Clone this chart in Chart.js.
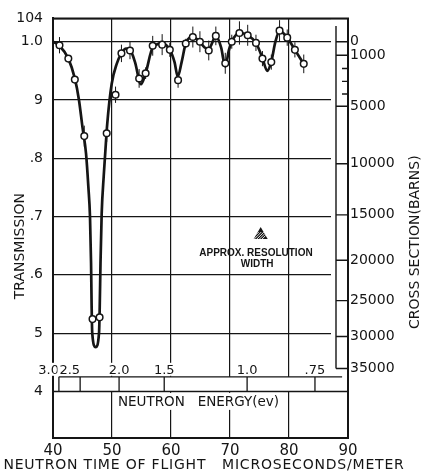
<!DOCTYPE html>
<html>
<head>
<meta charset="utf-8">
<script src="https://cdn.jsdelivr.net/npm/chart.js@4.4.0/dist/chart.umd.min.js"></script>
<style>
  html, body { margin: 0; padding: 0; background: #fff; }
  canvas { display: block; }
</style>
</head>
<body>
<canvas id="chart" width="421" height="475"></canvas>
<script>
// Measured points: neutron time of flight (us/m), transmission, error
const tofPoints = [41.1, 42.6, 43.7, 45.3, 46.7, 47.9, 49.1, 50.6, 51.6, 53.05, 54.6, 55.7, 56.9, 58.5, 59.8, 61.2,
  62.5, 63.7, 64.9, 66.4, 67.6, 69.2, 70.3, 71.6, 73.0, 74.4, 75.5, 77.0, 78.4, 79.7, 81.0, 82.5];
const transPoints = [0.994, 0.971, 0.935, 0.838, 0.524, 0.527, 0.843, 0.909, 0.980, 0.985, 0.937, 0.946, 0.993, 0.995, 0.986, 0.934,
  0.997, 1.008, 1.000, 0.985, 1.010, 0.963, 1.000, 1.015, 1.011, 0.998, 0.971, 0.965, 1.019, 1.007, 0.986, 0.962];
const transErrors = [0.014, 0, 0, 0.018, 0, 0, 0.015, 0.014, 0.015, 0.015, 0.016, 0.010, 0.017, 0.018, 0.012, 0.013,
  0.008, 0.018, 0.018, 0.017, 0.016, 0.018, 0.012, 0.020, 0.018, 0.014, 0.013, 0.013, 0.018, 0.014, 0.013, 0.016];

// Drawn-in curve
const curveTof = [40.0, 41.1, 42.6, 43.7, 44.4, 45.0, 45.6, 46.0, 46.27, 46.45, 46.55, 46.65, 47.23, 47.8, 47.92, 48.05,
  48.25, 48.6, 48.86, 49.2, 49.95, 50.8, 51.6, 52.4, 53.05, 53.9, 54.9, 55.7, 56.9, 58.5, 59.8, 60.6, 61.15, 61.8,
  62.5, 63.7, 64.9, 65.7, 66.4, 67.6, 68.5, 69.2, 69.8, 70.3, 71.6, 73.0, 74.4, 75.5, 76.3, 77.0, 77.7, 78.4, 79.7, 81.0, 82.5];
const curveTrans = [1.000, 0.993, 0.971, 0.937, 0.900, 0.853, 0.808, 0.750, 0.700, 0.620, 0.545, 0.500, 0.476, 0.500, 0.545, 0.620,
  0.705, 0.770, 0.810, 0.860, 0.928, 0.962, 0.980, 0.988, 0.986, 0.965, 0.927, 0.946, 0.990, 0.997, 0.986, 0.965, 0.940, 0.965,
  0.997, 1.008, 1.000, 0.990, 0.988, 1.009, 0.990, 0.957, 0.985, 1.000, 1.015, 1.011, 0.998, 0.972, 0.950, 0.966, 1.000, 1.018, 1.007, 0.986, 0.962];

// Axes
const xTickValues = [40, 50, 60, 70, 80, 90];
const yTickValues = [0.4, 0.5, 0.6, 0.7, 0.8, 0.9, 1.0, 1.04];
const yTickLabels = ["4", "5", ".6", ".7", ".8", "9", "1.0", "104"];
const sigmaMajor = [0, 1000, 5000, 10000, 15000, 20000, 25000, 30000, 35000];
const sigmaMinor = [2000, 3000, 4000];
const energyLabels = ["3.0", "2.5", "2.0", "1.5", "1.0", ".75"];
const energyTof = [41.0, 44.6, 51.2, 58.85, 72.9, 84.4];

const INK = "#151515";
const FONT = "'DejaVu Sans', sans-serif";

// sample thickness (atoms/barn): T = exp(-n * sigma)
const thickness = 2.35e-5;
const sigmaToT = s => Math.exp(-thickness * s);

const points = tofPoints.map((t, i) => ({ x: t, y: transPoints[i] }));
const curve = curveTof.map((t, i) => ({ x: t, y: curveTrans[i] }));

// Extra drawing: box, cross-section ladder, energy strip, error bars, note, titles
const extras = {
  id: "extras",
  beforeDatasetsDraw(chart) {
    const { ctx, chartArea: a, scales: { x, y, y2 } } = chart;
    ctx.save();
    ctx.strokeStyle = INK;
    ctx.fillStyle = INK;

    // box top and right
    ctx.lineWidth = 2;
    ctx.beginPath();
    ctx.moveTo(a.left - 1, a.top);
    ctx.lineTo(a.right, a.top);
    ctx.lineTo(a.right, a.bottom + 1);
    ctx.stroke();

    // cross-section ladder
    const ladderX = a.right - 12;
    const ladTop = y.getPixelForValue(1.027);
    const ladBot = y.getPixelForValue(sigmaToT(35000));
    ctx.fillStyle = "#fff";
    ctx.fillRect(ladderX - 5, a.top + 1.5, a.right - 1 - (ladderX - 5), ladBot + 3 - a.top);
    ctx.lineWidth = 1.4;
    ctx.beginPath();
    ctx.moveTo(ladderX, ladTop);
    ctx.lineTo(ladderX, ladBot);
    y2.ticks.forEach(tk => {
      const py = y2.getPixelForValue(tk.value);
      ctx.moveTo(tk.minor ? a.right - 6 : ladderX, py);
      ctx.lineTo(a.right, py);
    });
    ctx.stroke();

    // energy strip
    const ys = y.getPixelForValue(0.425);
    const y4 = y.getPixelForValue(0.4);
    ctx.fillStyle = "#fff";
    ctx.fillRect(a.left + 1.5, ys, a.width - 3, y4 - ys);
    ctx.lineWidth = 1.3;
    ctx.beginPath();
    ctx.moveTo(x.getPixelForValue(energyTof[0]), ys);
    ctx.lineTo(x.getPixelForValue(89), ys);
    ctx.moveTo(a.left, y4);
    ctx.lineTo(a.right, y4);
    const ex = energyTof.map(t => x.getPixelForValue(t));
    ex.forEach(px => { ctx.moveTo(px, ys); ctx.lineTo(px, y4); });
    ctx.stroke();

    ctx.font = "13px " + FONT;
    ctx.textBaseline = "alphabetic";
    energyLabels.forEach((lab, i) => {
      const crowded = (i > 0 && ex[i] - ex[i - 1] < 30) || (i < ex.length - 1 && ex[i + 1] - ex[i] < 30);
      const w = ctx.measureText(lab).width;
      const left = crowded ? ex[i] - w : ex[i] - w / 2;
      ctx.fillStyle = "#fff";
      ctx.fillRect(left - 2, ys - 14, w + 4, 13);
      ctx.fillStyle = INK;
      ctx.fillText(lab, left, ys - 3);
    });

    ctx.font = "13.5px " + FONT;
    const et = "NEUTRON   ENERGY(ev)";
    const ew = ctx.measureText(et).width;
    const ecx = (a.left + a.right) / 2 - 2;
    ctx.fillStyle = "#fff";
    ctx.fillRect(ecx - ew / 2 - 4, y4 + 1.5, ew + 8, 17);
    ctx.fillStyle = INK;
    ctx.fillText(et, ecx - ew / 2, y4 + 15);

    // error bars
    ctx.lineWidth = 1;
    ctx.beginPath();
    points.forEach((p, i) => {
      const e = transErrors[i];
      if (!e) return;
      const px = x.getPixelForValue(p.x);
      ctx.moveTo(px, y.getPixelForValue(p.y - e));
      ctx.lineTo(px, y.getPixelForValue(p.y + e));
    });
    ctx.stroke();

    // resolution-width note
    const tx = x.getPixelForValue(75.2), ty = y.getPixelForValue(0.67);
    ctx.fillStyle = INK;
    ctx.beginPath();
    ctx.moveTo(tx, ty - 7);
    ctx.lineTo(tx + 7, ty + 5);
    ctx.lineTo(tx - 7, ty + 5);
    ctx.closePath();
    ctx.fill();
    ctx.save();
    ctx.clip();
    ctx.strokeStyle = "#fff";
    ctx.lineWidth = 0.9;
    ctx.beginPath();
    for (let k = -6; k <= 6; k += 2.6) {
      ctx.moveTo(tx + k - 4, ty + 6);
      ctx.lineTo(tx + k + 4, ty - 2);
    }
    ctx.stroke();
    ctx.restore();

    ctx.fillStyle = INK;
    ctx.font = "bold 10px 'Liberation Sans', sans-serif";
    ctx.textAlign = "center";
    ctx.fillText("APPROX. RESOLUTION", x.getPixelForValue(74.4), y.getPixelForValue(0.64) + 4);
    ctx.fillText("WIDTH", x.getPixelForValue(74.6), y.getPixelForValue(0.621) + 4);
    ctx.restore();
  },
  afterDraw(chart) {
    const { ctx, chartArea: a } = chart;
    ctx.save();
    ctx.fillStyle = INK;
    ctx.font = "14px " + FONT;
    ctx.textAlign = "center";
    ctx.textBaseline = "middle";

    ctx.save();
    ctx.translate(20, (a.top + a.bottom) / 2 + 18);
    ctx.rotate(-Math.PI / 2);
    ctx.fillText("TRANSMISSION", 0, 0);
    ctx.restore();

    ctx.save();
    ctx.translate(415, (a.top + a.bottom) / 2 + 14);
    ctx.rotate(-Math.PI / 2);
    ctx.fillText("CROSS SECTION(BARNS)", 0, 0);
    ctx.restore();

    ctx.letterSpacing = "0.8px";
    ctx.fillText("NEUTRON TIME OF FLIGHT   MICROSECONDS/METER", 204, a.bottom + 27);
    ctx.restore();
  }
};

const tickFont = size => ({ family: FONT, size: size });

new Chart(document.getElementById("chart"), {
  type: "scatter",
  data: {
    datasets: [
      {
        label: "measured",
        data: points,
        showLine: false,
        pointRadius: 3.3,
        pointBorderWidth: 1.5,
        pointBorderColor: INK,
        pointBackgroundColor: "#fff"
      },
      {
        label: "curve",
        data: curve,
        showLine: true,
        borderColor: INK,
        borderWidth: 2.7,
        pointRadius: 0,
        cubicInterpolationMode: "monotone",
        fill: false
      }
    ]
  },
  options: {
    responsive: false,
    animation: false,
    devicePixelRatio: 1,
    events: [],
    layout: { padding: { top: 15, left: 0, right: 0, bottom: 0 } },
    plugins: { legend: { display: false }, tooltip: { enabled: false } },
    scales: {
      x: {
        type: "linear",
        min: 40,
        max: 90,
        afterBuildTicks: s => { s.ticks = xTickValues.map(v => ({ value: v })); },
        afterFit: s => { s.height = 37; },
        grid: { color: INK, lineWidth: 1.2, drawTicks: false },
        border: { display: true, color: INK, width: 2 },
        ticks: { color: INK, font: tickFont(15), padding: 4, maxRotation: 0, autoSkip: false }
      },
      y: {
        type: "linear",
        min: 0.32,
        max: 1.04,
        afterBuildTicks: s => { s.ticks = yTickValues.map(v => ({ value: v })); },
        afterFit: s => { s.width = 53; },
        grid: { color: INK, lineWidth: 1.2, drawTicks: false },
        border: { display: true, color: INK, width: 2 },
        ticks: {
          color: INK, font: tickFont(14), padding: 10, autoSkip: false,
          callback: (v, i) => yTickLabels[i]
        }
      },
      y2: {
        type: "linear",
        position: "right",
        min: 0.32,
        max: 1.04,
        afterBuildTicks: s => {
          s.ticks = sigmaMajor.map(sg => ({ value: sigmaToT(sg), sigma: sg, minor: false }))
            .concat(sigmaMinor.map(sg => ({ value: sigmaToT(sg), sigma: sg, minor: true })));
        },
        afterFit: s => { s.width = 73; },
        grid: { display: false, drawTicks: false },
        border: { display: false },
        ticks: {
          color: INK, font: tickFont(14), padding: 2, autoSkip: false,
          callback: (v, i, ticks) => ticks[i].minor ? "" : String(ticks[i].sigma)
        }
      }
    }
  },
  plugins: [extras]
});
</script>
</body>
</html>
